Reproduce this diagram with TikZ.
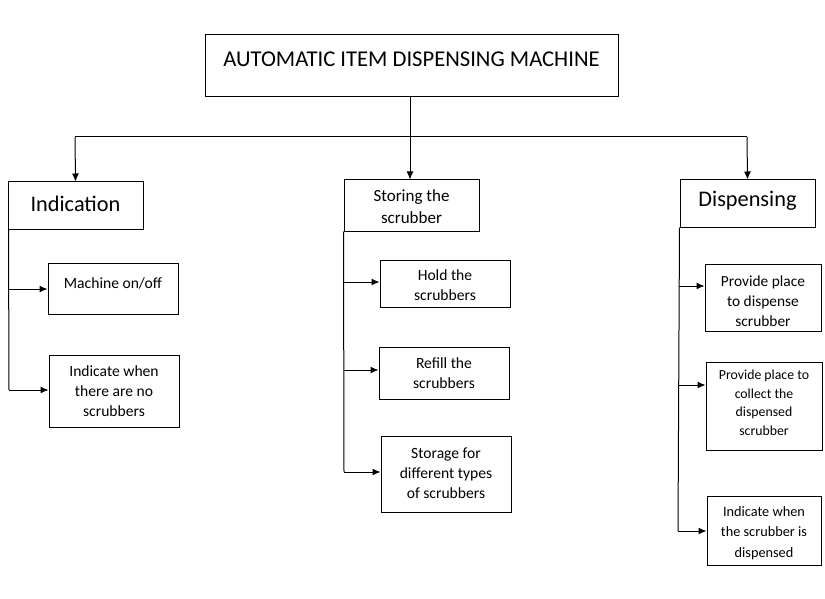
\documentclass[tikz,border=0pt]{standalone}
\usepackage{fontspec}
\setmainfont{Carlito}
\usetikzlibrary{arrows.meta,fit}
\tikzset{
  bx/.style={draw, line width=1, inner sep=0pt},
  ln/.style={line width=1},
  arr/.style={line width=1, -{Latex[length=8pt,width=7pt]}},
  sub/.style={align=center, inner sep=0pt, font={\fontsize{15.6}{20}\selectfont}},
  subr/.style={align=center, inner sep=0pt, font={\fontsize{14.1}{20}\selectfont}},
  head/.style={align=center, inner sep=0pt, font={\fontsize{22.3}{26}\selectfont}},
}
\begin{document}
\begin{tikzpicture}[x=1pt,y=-1pt]
\useasboundingbox (0,0) rectangle (825,599);
% boxes
\node[bx, fit={(205,35)(618,97)}] (top) {};
\node[align=center, inner sep=0pt, font={\fontsize{22.6}{26}\selectfont}] (toptxt) at (411.5,59) {AUTOMATIC ITEM DISPENSING MACHINE};

\node[bx, fit={(8,182)(143,229)}] (ind) {};
\node[head] (indtxt) at (75.5,204) {Indication};
\node[bx, fit={(344,180)(479,231)}] (sto) {};
\node[sub, font={\fontsize{17}{22}\selectfont}] (stotxt) at (411.5,207) {Storing the\\scrubber};
\node[bx, fit={(680,180)(815,227)}] (dsp) {};
\node[head] (dsptxt) at (747.5,201) {Dispensing};

\node[bx, fit={(48,263)(178,314)}] (m1) {};
\node[sub] (m1t) at (113,283) {Machine on/off};
\node[bx, fit={(49,355)(179,427)}] (m2) {};
\node[sub] (m2t) at (114,391) {Indicate when\\there are no\\scrubbers};

\node[bx, fit={(380,260)(510,307)}] (s1) {};
\node[sub] (s1t) at (445,285) {Hold the\\scrubbers};
\node[bx, fit={(379,347)(509,399)}] (s2) {};
\node[sub] (s2t) at (444,373) {Refill the\\scrubbers};
\node[bx, fit={(381,436)(511,512)}] (s3) {};
\node[sub] (s3t) at (446,473) {Storage for\\different types\\of scrubbers};

\node[bx, fit={(705,264)(821,331)}] (d1) {};
\node[subr, font={\fontsize{15.4}{20}\selectfont}] (d1t) at (763,301) {Provide place\\to dispense\\scrubber};
\node[bx, fit={(706,362)(822,450)}] (d2) {};
\node[subr, font={\fontsize{13.8}{18.5}\selectfont}] (d2t) at (764,403) {Provide place to\\collect the\\dispensed\\scrubber};
\node[bx, fit={(707,496)(821,565)}] (d3) {};
\node[subr, font={\fontsize{14.3}{20.5}\selectfont}] (d3t) at (764,533) {Indicate when\\the scrubber is\\dispensed};

% top tree
\coordinate (j) at (410,137);
\coordinate (hl) at (75,137);
\coordinate (hr) at (747,137);
\draw[ln] (top.south -| j) -- (j);
\draw[ln] (hl) -- (hr);
\draw[arr] (hl) -- (ind.north);
\draw[arr] (j) -- (j |- sto.north);
\draw[arr] (hr) -- (dsp.north);

% indication branch
\coordinate (ia) at (9,289);
\coordinate (ib) at (9,390);
\draw[ln] (ind.south west) ++(1,0) -- (ib);
\draw[arr] (ia) -- (m1.west |- ia);
\draw[arr] (ib) -- (m2.west |- ib);

% storing branch
\coordinate (sa) at (344,282);
\coordinate (sb) at (344,370);
\coordinate (sc) at (344,472);
\draw[ln] (sto.south west) -- (sc);
\draw[arr] (sa) -- (s1.west |- sa);
\draw[arr] (sb) -- (s2.west |- sb);
\draw[arr] (sc) -- (s3.west |- sc);

% dispensing branch
\coordinate (da) at (679,286);
\coordinate (db) at (679,385);
\coordinate (dc) at (678,531);
\draw[ln] (dsp.south west) -- (dc);
\draw[arr] (da) -- (d1.west |- da);
\draw[arr] (db) -- (d2.west |- db);
\draw[arr] (dc) -- (d3.west |- dc);
\end{tikzpicture}
\end{document}
